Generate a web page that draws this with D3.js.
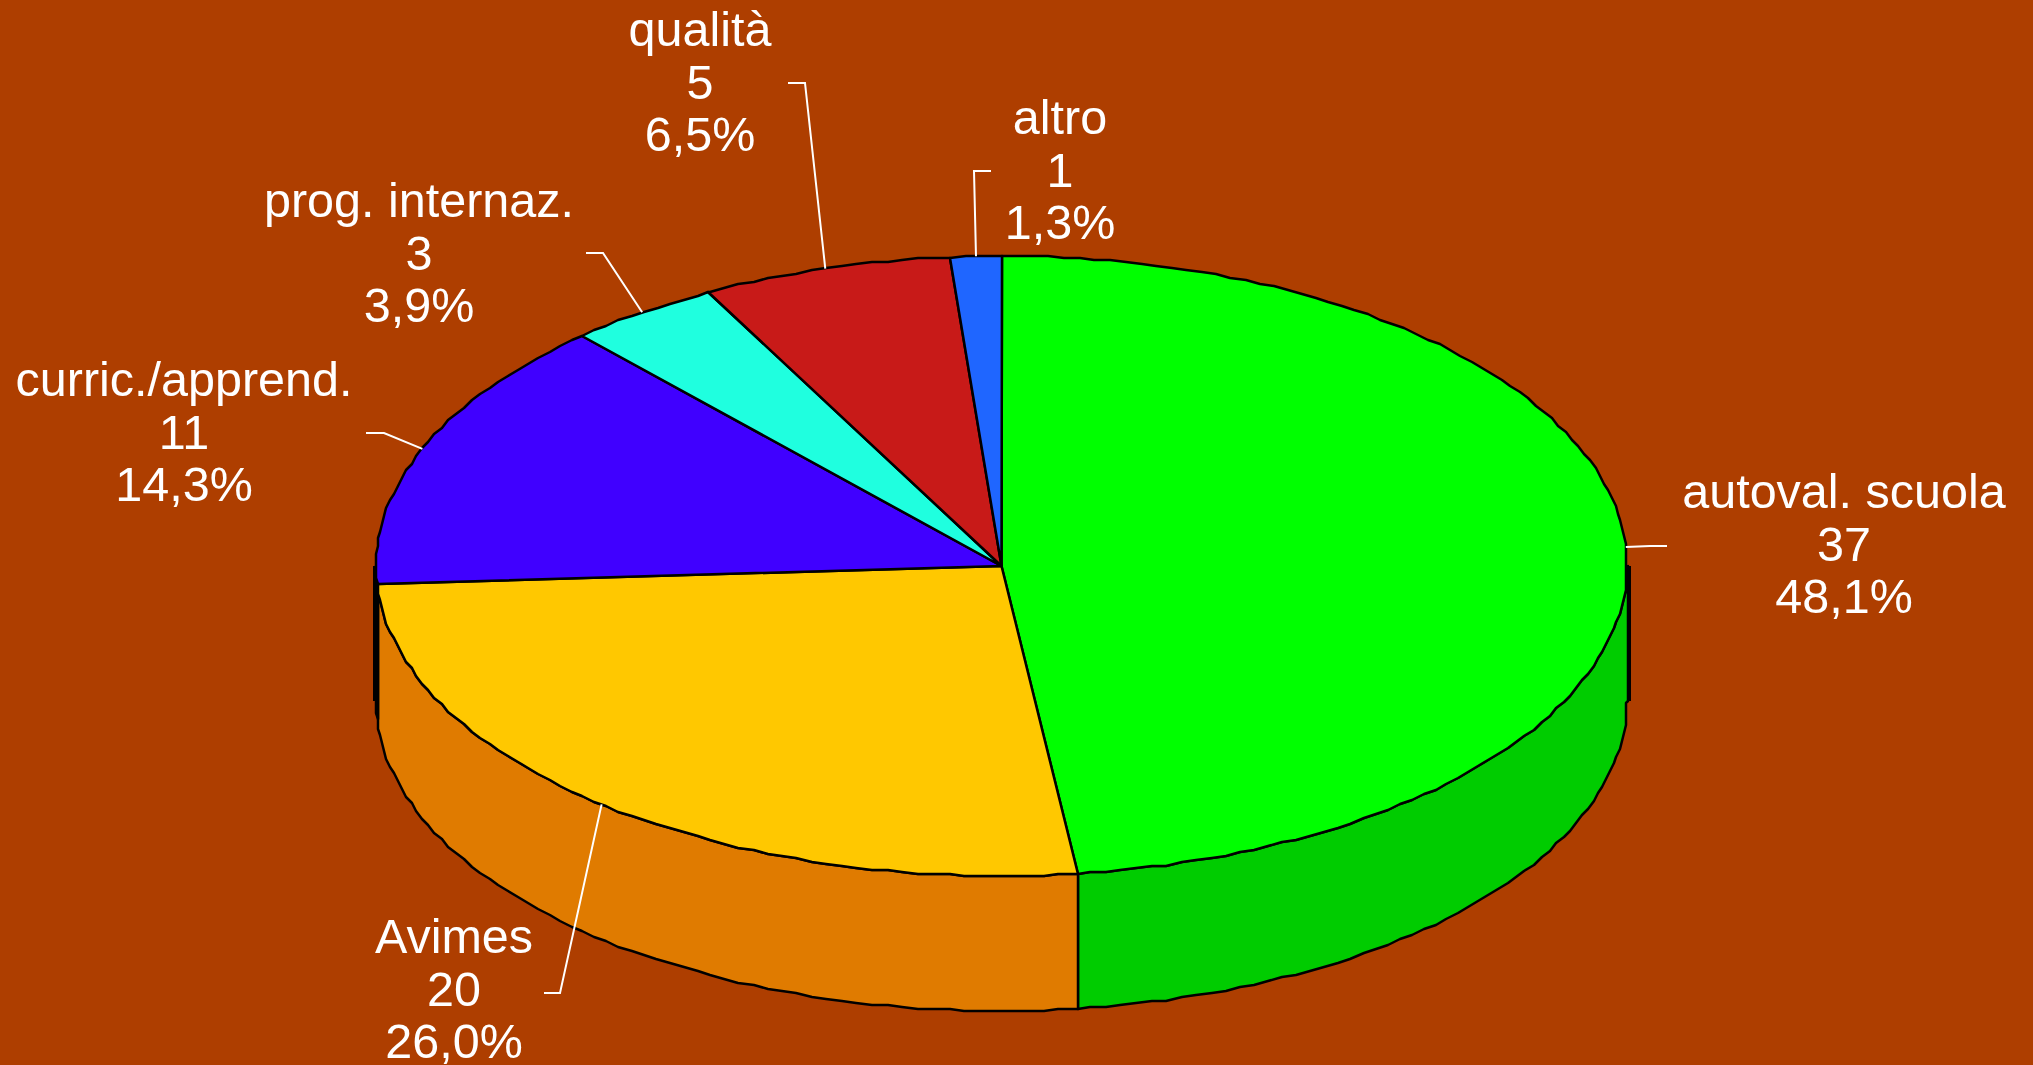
<!DOCTYPE html>
<html>
<head>
<meta charset="utf-8">
<script src="https://cdn.jsdelivr.net/npm/d3@7"></script>
<style>
    html, body { margin: 0; padding: 0; background: #ae3e00; overflow: hidden; }
    svg { display: block; }
    text { font-family: "Liberation Sans", Arial, sans-serif; fill: #fff; text-anchor: middle; }
</style>
</head>
<body>
<div id="chart"></div>
<script>
// data
var categories = ["autoval. scuola", "Avimes", "curric./apprend.", "prog. internaz.", "qualità", "altro"];
var values = [37, 20, 11, 3, 5, 1];
var percents = ["48,1%", "26,0%", "14,3%", "3,9%", "6,5%", "1,3%"];

var topColors = ["#00ff00", "#ffc800", "#4000ff", "#1fffdf", "#c81a18", "#1f66ff"];
var sideColors = ["#00cc00", "#e07b00", "#3300cc", "#19ccb2", "#a01513", "#1a52cc"];

// where the text blocks and leader elbows sit (x centre, first baseline, elbow end, elbow corner)
var labelX = [1844, 454, 184, 419, 700, 1060];
var labelY = [508, 953, 396, 217, 46, 134];
var elbowEnd = [[1667, 546], [544, 993], [366, 433], [586, 253], [788, 83], [991, 171]];
var elbowCorner = [[1650, 546], [560, 993], [384, 433], [603, 253], [805, 83], [974, 171]];

var svgWidth = 2033;
var svgHeight = 1065;
var lineGap = 52.5;
var depth = 135;

var svg = d3.select("#chart")
    .append("svg")
    .attr("width", svgWidth)
    .attr("height", svgHeight);

// unit circle -> tilted ellipse on screen
var xScale = d3.scaleLinear().domain([-1, 1]).range([376, 1627]);
var yScale = d3.scaleLinear().domain([-1, 1]).range([256, 876]);

var pie = d3.pie().sort(null).value(d => d);
var slices = pie(values);

// the reference outline is slightly stepped, so snap the points to a small grid
function px(a) { return Math.round(xScale(Math.sin(a)) / 2) * 2; }
function py(a) { return Math.round(yScale(-Math.cos(a)) / 2) * 2; }

// angles on a shared step so top face and wall trace the same outline
var step = 0.025;
function arcPoints(a0, a1, dy) {
    var inner = d3.range(Math.ceil(a0 / step + 0.01), Math.floor(a1 / step - 0.01) + 1).map(k => k * step);
    return [a0].concat(inner, [a1]).map(a => [px(a), py(a) + dy]);
}

var line = d3.line();

// front wall: only the part of each slice between 90 and 270 degrees shows
var wallGroup = svg.append("g");
slices.forEach(function (s, i) {
    var a0 = Math.max(s.startAngle, Math.PI / 2);
    var a1 = Math.min(s.endAngle, Math.PI * 3 / 2);
    if (a1 <= a0) return;
    var pts = arcPoints(a0, a1, 0).concat(arcPoints(a0, a1, depth).reverse());
    wallGroup.append("path")
        .attr("d", line(pts) + "Z")
        .attr("fill", sideColors[i])
        .attr("stroke", "#000")
        .attr("stroke-width", 2.5)
        .attr("stroke-linejoin", "round");
});

// heavier silhouette on the two ends of the wall, a little outside the top face
[[Math.PI / 2, 2], [Math.PI * 3 / 2, -1]].forEach(function (d) {
    var x = xScale(Math.sin(d[0])) + d[1];
    svg.append("line")
        .attr("x1", x)
        .attr("x2", x)
        .attr("y1", yScale(0))
        .attr("y2", yScale(0) + depth)
        .attr("stroke", "#000")
        .attr("stroke-width", 4);
});

// top face
var topGroup = svg.append("g");
slices.forEach(function (s, i) {
    var pts = [[xScale(0), yScale(0)]].concat(arcPoints(s.startAngle, s.endAngle, 0));
    topGroup.append("path")
        .attr("d", line(pts) + "Z")
        .attr("fill", topColors[i])
        .attr("stroke", "#000")
        .attr("stroke-width", 2.5)
        .attr("stroke-linejoin", "round");
});

// leader lines start at the middle of each slice edge
slices.forEach(function (s, i) {
    var mid = (s.startAngle + s.endAngle) / 2;
    var pts = [elbowEnd[i], elbowCorner[i], [xScale(Math.sin(mid)), yScale(-Math.cos(mid))]];
    svg.append("path")
        .attr("d", line(pts))
        .attr("fill", "none")
        .attr("stroke", "#fff")
        .attr("stroke-width", 2);
});

// labels: name, count, percent
categories.forEach(function (c, i) {
    var rows = [c, values[i], percents[i]];
    rows.forEach(function (r, j) {
        svg.append("text")
            .attr("x", labelX[i])
            .attr("y", labelY[i] + j * lineGap)
            .style("font-size", "48.5px")
            .text(r);
    });
});
</script>
</body>
</html>
